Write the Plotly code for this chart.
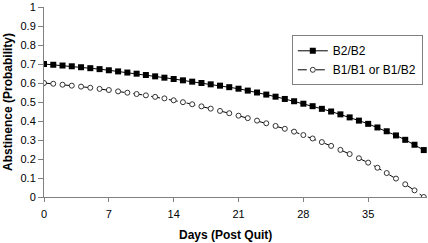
import plotly.graph_objects as go

days = list(range(0, 42))
b2_b2 = [0.700, 0.696, 0.692, 0.688, 0.683, 0.678, 0.673, 0.667, 0.661, 0.655,
         0.649, 0.642, 0.635, 0.628, 0.621, 0.614, 0.607, 0.600, 0.593, 0.586,
         0.578, 0.570, 0.560, 0.550, 0.539, 0.528, 0.516, 0.504, 0.491, 0.478,
         0.464, 0.450, 0.435, 0.419, 0.402, 0.385, 0.366, 0.346, 0.324, 0.301,
         0.275, 0.247]
b1_any = [0.600, 0.596, 0.591, 0.586, 0.581, 0.575, 0.569, 0.563, 0.556, 0.549,
          0.542, 0.535, 0.527, 0.519, 0.509, 0.499, 0.488, 0.477, 0.465, 0.453,
          0.441, 0.428, 0.415, 0.402, 0.388, 0.374, 0.359, 0.344, 0.326, 0.308,
          0.289, 0.269, 0.248, 0.226, 0.204, 0.181, 0.154, 0.126, 0.097, 0.067,
          0.035, 0.000]
x_ticks = [0, 7, 14, 21, 28, 35]
y_ticks = [0, 0.1, 0.2, 0.3, 0.4, 0.5, 0.6, 0.7, 0.8, 0.9, 1]
y_labels = ["0", "0.1", "0.2", "0.3", "0.4", "0.5", "0.6", "0.7", "0.8", "0.9", "1"]

fig = go.Figure()
fig.add_trace(go.Scatter(
    x=days, y=b2_b2, name="B2/B2", mode="lines+markers",
    line=dict(color="black", width=1),
    marker=dict(symbol="square", size=6, color="black"),
))
fig.add_trace(go.Scatter(
    x=days, y=b1_any, name="B1/B1 or B1/B2", mode="lines+markers",
    line=dict(color="black", width=1, dash="dash"),
    marker=dict(symbol="circle", size=5, color="white",
                line=dict(color="#333333", width=1)),
))

font = "Liberation Sans, Arial, sans-serif"
fig.update_layout(
    width=428, height=243, autosize=False,
    margin=dict(l=44, r=1, t=7, b=46, autoexpand=False),
    paper_bgcolor="white", plot_bgcolor="white",
    font=dict(family=font, size=11, color="black"),
    showlegend=True,
    legend=dict(x=0.647, xanchor="left", y=0.851, yanchor="top",
                bordercolor="#808080", borderwidth=1, bgcolor="white",
                font=dict(size=12), itemwidth=30,
                tracegroupgap=0),
    annotations=[
        dict(text="<b>Days (Post Quit)</b>", xref="paper", yref="paper",
             x=0.4726, y=-0.2, xanchor="center", yanchor="middle",
             showarrow=False, font=dict(size=12)),
        dict(text="<b>Abstinence (Probability)</b>", xref="paper", yref="paper",
             x=-0.094, y=0.5, xanchor="center", yanchor="middle", textangle=-90,
             showarrow=False, font=dict(size=12)),
    ],
)
fig.update_xaxes(
    range=[0, 41.35], tickmode="array", tickvals=x_ticks,
    ticktext=[str(t) for t in x_ticks], automargin=False,
    showline=True, linecolor="#808080", linewidth=1,
    ticks="outside", ticklen=4, tickcolor="#808080",
    ticklabelstandoff=3,
    showgrid=False, zeroline=False,
)
fig.update_yaxes(
    range=[0, 1], tickmode="array", tickvals=y_ticks, ticktext=y_labels,
    automargin=False,
    showline=True, linecolor="#808080", linewidth=1,
    ticks="outside", ticklen=5, tickcolor="#808080",
    showgrid=False, zeroline=False,
)

fig.write_html("out.html", config={"displayModeBar": False},
               post_script="document.body.style.margin='0';document.body.style.overflow='hidden';")
